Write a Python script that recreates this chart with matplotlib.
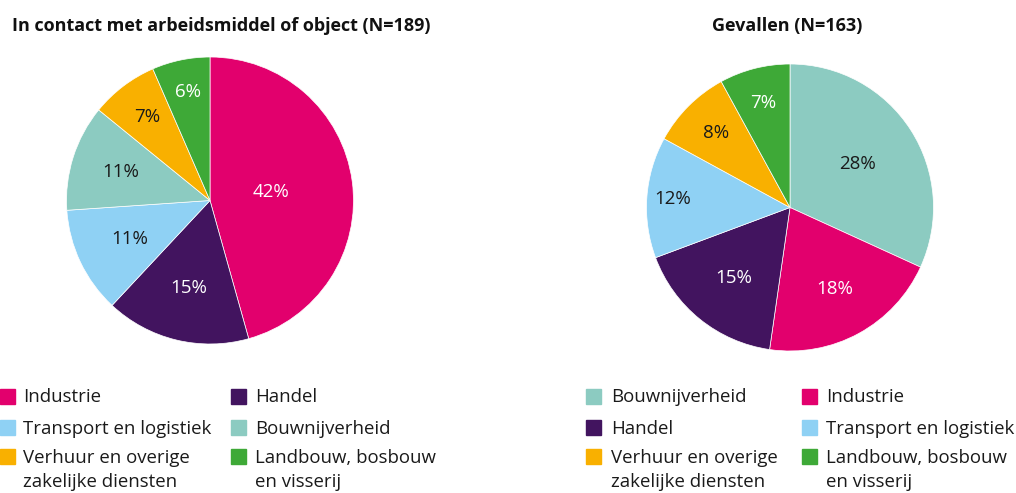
import numpy as np
import matplotlib.pyplot as plt
from matplotlib.patches import Rectangle

W, H = 1016, 493

COLORS = {
    "Industrie": "#e2006d",
    "Handel": "#42145f",
    "Transport en logistiek": "#8fd1f4",
    "Bouwnijverheid": "#8ccbc1",
    "Verhuur en overige\nzakelijke diensten": "#f9b000",
    "Landbouw, bosbouw\nen visserij": "#3ea937",
}
WHITE_TEXT = {"Industrie", "Handel", "Landbouw, bosbouw\nen visserij"}

contact_labels = ["Industrie", "Handel", "Transport en logistiek", "Bouwnijverheid",
                  "Verhuur en overige\nzakelijke diensten", "Landbouw, bosbouw\nen visserij"]
contact_values = [42, 15, 11, 11, 7, 6]
contact_dist = [0.43, 0.63, 0.62, 0.65, 0.73, 0.77]

fall_labels = ["Bouwnijverheid", "Industrie", "Handel", "Transport en logistiek",
               "Verhuur en overige\nzakelijke diensten", "Landbouw, bosbouw\nen visserij"]
fall_values = [28, 18, 15, 12, 8, 7]
fall_dist = [0.56, 0.65, 0.63, 0.82, 0.73, 0.75]

plt.rcParams["font.family"] = ["Open Sans", "DejaVu Sans"]

fig = plt.figure(figsize=(W / 100, H / 100), dpi=100)


def fx(x):
    return x / W


def fy(y):
    return 1 - y / H


def draw_pie(cx, cy, r, labels, values, dists, title, title_x, title_ha):
    ax = fig.add_axes([fx(cx - r), fy(cy + r), 2 * r / W, 2 * r / H])
    wedges, _ = ax.pie(values, colors=[COLORS[l] for l in labels], startangle=90,
                       counterclock=False, radius=1,
                       wedgeprops=dict(edgecolor="white", linewidth=0.5))
    for w, lab, v, d in zip(wedges, labels, values, dists):
        ang = np.deg2rad((w.theta1 + w.theta2) / 2)
        ax.text(d * np.cos(ang), d * np.sin(ang), f"{v}%", ha="center", va="center",
                fontsize=13.5, color="white" if lab in WHITE_TEXT else "#1a1a1a")
    ax.set_xlim(-1, 1)
    ax.set_ylim(-1, 1)
    ax.axis("off")
    fig.text(fx(title_x), fy(31), title, ha=title_ha, va="baseline",
             fontsize=13, fontweight="bold", color="#111111")


def draw_legend(labels, col_x, text_x):
    rows = [396, 427, 456.5]
    for i, lab in enumerate(labels):
        row, col = divmod(i, 2)
        yc = rows[row]
        fig.patches.append(Rectangle((fx(col_x[col]), fy(yc + 7.5)), 15 / W, 15 / H,
                                     transform=fig.transFigure, color=COLORS[lab]))
        for j, line in enumerate(lab.split("\n")):
            fig.text(fx(text_x[col]), fy(yc + 6.5 + 24 * j), line, ha="left",
                     va="baseline", fontsize=13.4, color="#1a1a1a")


draw_pie(210, 200.5, 143.5, contact_labels, contact_values, contact_dist,
         "In contact met arbeidsmiddel of object (N=189)", 12, "left")
draw_pie(790, 207.5, 143.5, fall_labels, fall_values, fall_dist,
         "Gevallen (N=163)", 787, "center")

draw_legend(contact_labels, [0, 231], [23, 255])
draw_legend(fall_labels, [586, 802], [611, 826])

fig.savefig("out.png", dpi=100)
